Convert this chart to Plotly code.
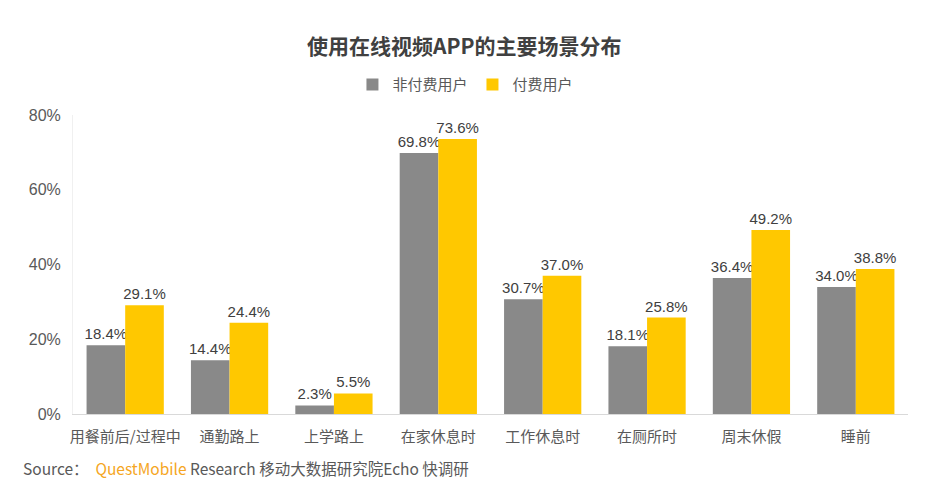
import plotly.graph_objects as go

# Data
categories = ["用餐前后/过程中", "通勤路上", "上学路上", "在家休息时",
              "工作休息时", "在厕所时", "周末休假", "睡前"]
non_paid = [18.4, 14.4, 2.3, 69.8, 30.7, 18.1, 36.4, 34.0]
paid = [29.1, 24.4, 5.5, 73.6, 37.0, 25.8, 49.2, 38.8]
y_ticks = [0, 20, 40, 60, 80]
y_tick_labels = ["0%", "20%", "40%", "60%", "80%"]

FONT = "Noto Sans CJK SC, Noto Sans, sans-serif"
NUM_FONT = "Liberation Sans, Arial, sans-serif"
GRAY = "#898989"
YELLOW = "#FFC800"

fig = go.Figure()

fig.add_trace(go.Bar(
    x=categories, y=non_paid, name="非付费用户",
    marker=dict(color=GRAY, line=dict(width=0)),
    text=[f"{v:.1f}%" for v in non_paid], textposition="outside",
    constraintext="none",
    textfont=dict(size=15, color="#404040", family=NUM_FONT),
    cliponaxis=False,
))
fig.add_trace(go.Bar(
    x=categories, y=paid, name="付费用户",
    marker=dict(color=YELLOW, line=dict(width=0)),
    text=[f"{v:.1f}%" for v in paid], textposition="outside",
    constraintext="none",
    textfont=dict(size=15, color="#404040", family=NUM_FONT),
    cliponaxis=False,
))

# page has an 8px body offset, so margins are shifted to compensate
fig.update_layout(
    width=931, height=499,
    barmode="group", bargap=0.26, bargroupgap=0,
    margin=dict(l=65, r=31, t=107, b=93, autoexpand=False),
    paper_bgcolor="white", plot_bgcolor="white",
    font=dict(family=FONT, color="#595959", size=14),
    title=dict(text="<b>使用在线视频APP的主要场景分布</b>", x=0.49, xanchor="center",
               yref="container", y=0.922, yanchor="middle",
               font=dict(size=21, color="#404040", family=FONT)),
    legend=dict(orientation="h", x=0.47, xanchor="center",
                yref="container", y=0.846, yanchor="middle",
                font=dict(size=15, color="#595959"), itemwidth=30,
                traceorder="normal", itemsizing="constant"),
)

fig.update_xaxes(showgrid=False, showline=True, linecolor="#D9D9D9", linewidth=1,
                 ticks="", ticklabelstandoff=9,
                 tickfont=dict(size=15, color="#595959"))
fig.update_yaxes(range=[0, 80], tickvals=y_ticks, ticktext=y_tick_labels,
                 showgrid=False, showline=True, linecolor="#F0F0F0", linewidth=1,
                 zeroline=False, ticks="", ticklabelstandoff=8,
                 tickfont=dict(size=16, color="#595959", family=NUM_FONT))

fig.add_annotation(
    xref="paper", yref="paper", x=-0.062, y=-0.18, xanchor="left", yanchor="middle",
    showarrow=False,
    text="Source：  <span style='color:#F5A623'>QuestMobile</span> Research 移动大数据研究院Echo 快调研",
    font=dict(size=15.5, color="#595959", family=FONT),
)

fig.write_html("out.html")
